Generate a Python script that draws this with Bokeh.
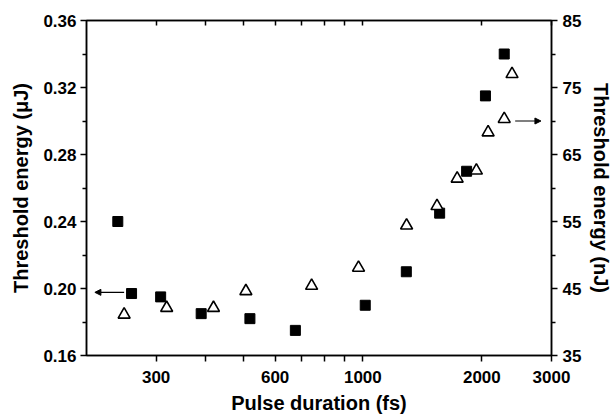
from bokeh.plotting import figure
from bokeh.models import (Range1d, LinearAxis, LogAxis, FixedTicker, Arrow,
                          NormalHead, NumeralTickFormatter, CustomLabelingPolicy)
from bokeh.embed import file_html
from bokeh.resources import INLINE

# Data
sq_x = [240, 260, 308, 390, 518, 675, 1014, 1288, 1564, 1830, 2042, 2278]
sq_y = [0.240, 0.197, 0.195, 0.185, 0.182, 0.175, 0.190, 0.210, 0.245, 0.270, 0.315, 0.340]
tri_x = [249, 319, 419, 506, 742, 975, 1290, 1540, 1732, 1937, 2074, 2278, 2384]
tri_y = [41.1, 42.1, 42.1, 44.6, 45.4, 48.1, 54.4, 57.3, 61.4, 62.6, 68.3, 70.3, 77.0]

x_major = [300, 600, 1000, 2000, 3000]
x_minor = [400, 500, 700, 800, 900]
yl_major = [0.16, 0.20, 0.24, 0.28, 0.32, 0.36]
yl_minor = [0.18, 0.22, 0.26, 0.30, 0.34]
yr_major = [35, 45, 55, 65, 75, 85]
yr_minor = [40, 50, 60, 70, 80]

FONT = "Liberation Sans"

p = figure(width=615, height=420, x_axis_type="log",
           x_range=Range1d(200, 3000), y_range=Range1d(0.16, 0.36),
           output_backend="svg", toolbar_location=None,
           min_border_left=86, min_border_right=62, min_border_top=14, min_border_bottom=65)
p.extra_y_ranges = {"nJ": Range1d(35, 85)}
p.xgrid.visible = False
p.ygrid.visible = False
p.outline_line_color = "black"
p.outline_line_width = 1.5
p.background_fill_color = "white"
p.border_fill_color = "white"


def style_axis(ax):
    ax.axis_line_color = "black"
    ax.axis_line_width = 1.5
    ax.major_tick_line_color = "black"
    ax.minor_tick_line_color = "black"
    ax.major_tick_line_width = 1.5
    ax.minor_tick_line_width = 1.5
    ax.major_label_text_font = FONT
    ax.major_label_text_font_style = "bold"
    ax.major_label_text_font_size = "17px"
    ax.major_label_text_color = "black"
    ax.axis_label_text_font = FONT
    ax.axis_label_text_font_style = "bold"
    ax.axis_label_text_font_size = "20px"
    ax.axis_label_text_color = "black"


# bottom x axis
xa = p.xaxis[0]
style_axis(xa)
xa.ticker = FixedTicker(ticks=x_major, minor_ticks=x_minor)
xa.formatter = NumeralTickFormatter(format="0")
xa.major_tick_in = 0
xa.major_tick_out = 6
xa.minor_tick_in = 0
xa.minor_tick_out = 6
xa.major_label_standoff = 9
xa.axis_label = "Pulse duration (fs)"
xa.axis_label_standoff = 6

# left y axis
ya = p.yaxis[0]
style_axis(ya)
ya.ticker = FixedTicker(ticks=yl_major, minor_ticks=yl_minor)
ya.formatter = NumeralTickFormatter(format="0.00")
ya.major_tick_in = 0
ya.major_tick_out = 6
ya.minor_tick_in = 0
ya.minor_tick_out = 4
ya.major_label_standoff = 4
ya.axis_label = "Threshold energy (μJ)"
ya.axis_label_standoff = 8

# right y axis
ra = LinearAxis(y_range_name="nJ")
style_axis(ra)
ra.ticker = FixedTicker(ticks=yr_major, minor_ticks=yr_minor)
ra.major_tick_in = 0
ra.major_tick_out = 6
ra.minor_tick_in = 0
ra.minor_tick_out = 4
ra.major_label_standoff = 5
ra.axis_label = "Threshold energy (nJ)"
ra.axis_label_standoff = 6
p.add_layout(ra, "right")

# top axis (ticks only, no labels)
ta = LogAxis()
style_axis(ta)
ta.ticker = FixedTicker(ticks=x_major, minor_ticks=x_minor)
ta.major_label_policy = CustomLabelingPolicy(
    code="const arr = [...indices]; for (const i of arr) { indices.unset(i) }; return indices")
ta.major_tick_in = 5
ta.major_tick_out = 0
ta.minor_tick_in = 5
ta.minor_tick_out = 0
p.add_layout(ta, "above")

p.scatter(sq_x, sq_y, marker="square", size=10, fill_color="black", line_color="black")
p.scatter(tri_x, tri_y, marker="triangle", size=12, fill_color="white",
          line_color="black", line_width=1.6, y_range_name="nJ")

p.add_layout(Arrow(end=NormalHead(size=6, fill_color="black", line_color="black"),
                   x_start=249, y_start=0.1977, x_end=210, y_end=0.1977,
                   line_color="black", line_width=1.2))
p.add_layout(Arrow(end=NormalHead(size=6, fill_color="black", line_color="black"),
                   x_start=2428, y_start=70.0, x_end=2821, y_end=70.0,
                   line_color="black", line_width=1.2, y_range_name="nJ"))

open("out.html", "w").write(file_html(p, INLINE))
